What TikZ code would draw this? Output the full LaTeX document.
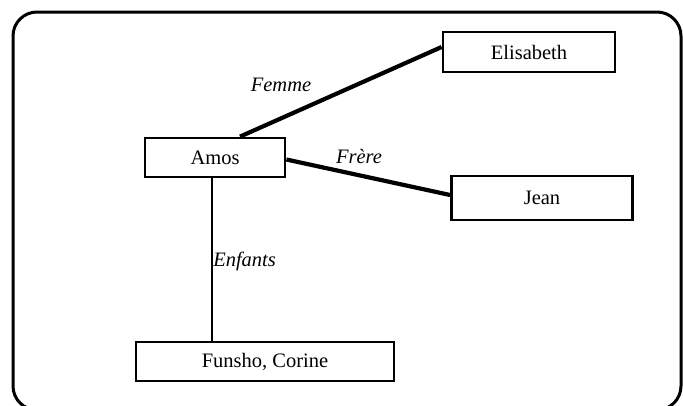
\documentclass[tikz,border=0pt]{standalone}
\usepackage{fontspec}
\setmainfont{Liberation Serif}
\usepackage{tikz}
\usetikzlibrary{calc}

\begin{document}
\begin{tikzpicture}[x=1pt, y=-1pt,
		box/.style={draw, line width=2.8pt, inner sep=0pt, font=\fontsize{20.5}{24}\selectfont},
		lien/.style={line width=4.2pt},
		etiquette/.style={font=\fontsize{20.5}{24}\selectfont\itshape, inner sep=1pt}]
			%%%%% START %%%%%
			
			\useasboundingbox (0, 0) rectangle (683, 405);
			\draw[line width=3pt, rounded corners=24pt] (13, 12) rectangle (681, 410);
			
			\node[box, minimum width=172pt, minimum height=40pt] (elisabeth) at (529, 52) {Elisabeth};
			\node[box, minimum width=140pt, minimum height=39pt] (amos) at (215, 157.5) {Amos};
			\node[box, minimum width=181pt, minimum height=44pt] (jean) at (542, 198) {Jean};
			\node[box, minimum width=258pt, minimum height=39pt] (funsho) at (265, 361.5) {Funsho, Corine};
			
			\draw[lien] ([xshift=25pt]amos.north) -- ([yshift=5pt]elisabeth.west);
			\draw[lien] ([yshift=-2pt]amos.east) -- ([yshift=3pt]jean.west);
			\draw[line width=2.5pt] ([xshift=-3pt]amos.south) -- ([xshift=-3pt]amos.south |- funsho.north)
				node[etiquette, midway, right, yshift=-2pt, inner sep=0pt] {Enfants};
			
			\node[etiquette] (femme) at (281, 85) {Femme};
			\node[etiquette] (frere) at (359, 156) {Frère};
			
			%%%%% END %%%%%
\end{tikzpicture}
\end{document}
